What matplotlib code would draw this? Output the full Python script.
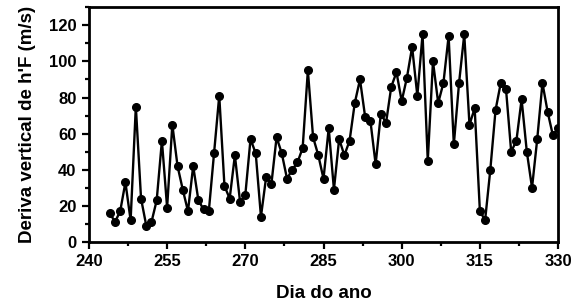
import numpy as np
import matplotlib.pyplot as plt
from matplotlib.ticker import MultipleLocator

days = np.arange(244, 331)
deriva = [16, 11, 17, 33, 12, 75, 24, 9, 11, 23, 56, 19, 65, 42, 29, 17, 42, 23, 18, 17,
          49, 81, 31, 24, 48, 22, 26, 57, 49, 14, 36, 32, 58, 49, 35, 40, 44, 52, 95, 58,
          48, 35, 63, 29, 57, 48, 56, 77, 90, 69, 67, 43, 71, 66, 86, 94, 78, 91, 108, 81,
          115, 45, 100, 77, 88, 114, 54, 88, 115, 65, 74, 17, 12, 40, 73, 88, 85, 50, 56, 79,
          50, 30, 57, 88, 72, 59, 63]

plt.rcParams['font.family'] = ['Liberation Sans', 'DejaVu Sans']
plt.rcParams['font.weight'] = 'bold'

fig = plt.figure(figsize=(5.85, 3.05), dpi=100)
ax = fig.add_axes([0.152, 0.207, 0.802, 0.769])
ax.plot(days, deriva, color='black', lw=1.7, marker='o', ms=5.5)

ax.set_xlim(240, 330)
ax.set_ylim(0, 130)
ax.xaxis.set_major_locator(MultipleLocator(15))
ax.xaxis.set_minor_locator(MultipleLocator(7.5))
ax.yaxis.set_major_locator(MultipleLocator(20))
ax.yaxis.set_minor_locator(MultipleLocator(10))
ax.tick_params(which='major', length=5, width=1.6, labelsize=12)
ax.tick_params(which='minor', length=3, width=1.6)
ax.tick_params(axis='x', pad=4)
ax.tick_params(axis='y', pad=4)
for s in ax.spines.values():
    s.set_linewidth(2)
for lab in ax.get_xticklabels() + ax.get_yticklabels():
    lab.set_fontweight('bold')

ax.set_xlabel('Dia do ano', fontsize=13.5, fontweight='bold', labelpad=11)
ax.set_ylabel("Deriva vertical de h'F (m/s)", fontsize=13.5, fontweight='bold', labelpad=9)

fig.savefig('out.png', dpi=100)
